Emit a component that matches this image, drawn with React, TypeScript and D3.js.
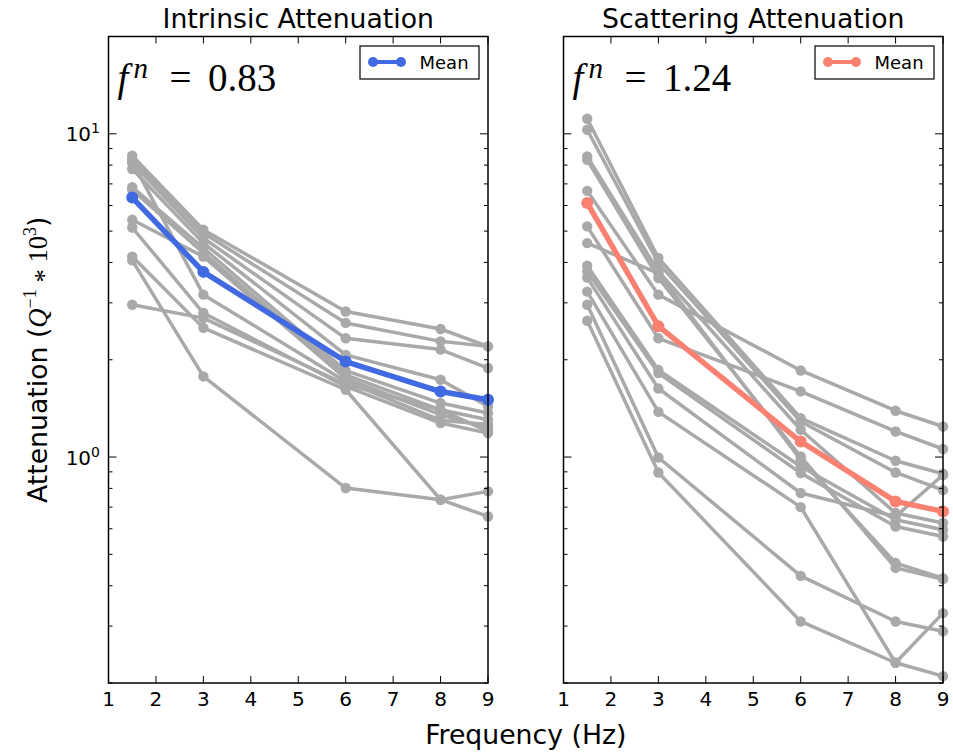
import React from "react";
import * as d3 from "d3";

const freqs = [1.5, 3, 6, 8, 9];
const xTickValues = [1, 2, 3, 4, 5, 6, 7, 8, 9];
const yMajorTicks = [1, 10];
const yMinorTicks = [0.2, 0.3, 0.4, 0.5, 0.6, 0.7, 0.8, 0.9, 2, 3, 4, 5, 6, 7, 8, 9];

const intrinsicLines: number[][] = [
  [8.55, 5.05, 2.82, 2.49, 2.2],
  [8.35, 4.93, 2.6, 2.28, 2.2],
  [8.12, 4.76, 2.33, 2.15, 1.885],
  [7.78, 4.59, 2.07, 1.734, 1.434],
  [6.84, 4.43, 1.85, 1.469, 1.368],
  [6.71, 4.28, 1.797, 1.4, 1.304],
  [5.42, 4.17, 1.75, 1.352, 1.229],
  [8.2, 3.18, 1.713, 1.3, 1.26],
  [5.13, 2.79, 1.654, 1.274, 1.186],
  [4.17, 2.51, 1.615, 0.738, 0.655],
  [4.06, 1.776, 0.802, 0.738, 0.783],
  [2.96, 2.69, 1.68, 1.4, 1.2],
];
const intrinsicMean = [6.35, 3.74, 1.975, 1.595, 1.504];

const scatteringLines: number[][] = [
  [6.66, 3.18, 1.853, 1.391, 1.243],
  [5.17, 2.33, 1.596, 1.2, 1.059],
  [11.13, 4.13, 1.319, 0.974, 0.888],
  [10.29, 3.98, 1.288, 0.896, 0.79],
  [8.51, 3.75, 1.215, 0.671, 0.625],
  [8.31, 3.58, 1.004, 0.454, 0.419],
  [4.59, 3.7, 0.981, 0.47, 0.422],
  [3.91, 1.86, 0.935, 0.64, 0.596],
  [3.75, 1.82, 0.892, 0.61, 0.568],
  [3.59, 1.63, 0.774, 0.655, 0.88],
  [3.25, 1.38, 0.7, 0.231, 0.329],
  [2.96, 0.997, 0.429, 0.31, 0.289],
  [2.64, 0.896, 0.31, 0.231, 0.21],
];
const scatteringMean = [6.11, 2.54, 1.117, 0.729, 0.679];

const W = 953;
const H = 752;
const top = 36.5;
const bottom = 683;
const panelW = 379.5;
const panels = [
  { left: 108.5, title: "Intrinsic Attenuation", lines: intrinsicLines, mean: intrinsicMean, color: "#4169e1", n: "0.83", yLabels: true },
  { left: 563.5, title: "Scattering Attenuation", lines: scatteringLines, mean: scatteringMean, color: "#fa8072", n: "1.24", yLabels: false },
];

const GREY = "#a9a9a9";
const SANS = "DejaVu Sans, sans-serif";
const SERIF = "Liberation Serif, Times New Roman, serif";

function Panel({ p }: { p: (typeof panels)[number] }) {
  const x = d3.scaleLinear().domain([1, 9]).range([0, panelW]);
  const y = d3.scaleLog().domain([0.2, 20]).range([bottom - top, 0]);
  const h = bottom - top;
  const line = d3
    .line<number>()
    .x((_, i) => x(freqs[i]))
    .y((d) => y(d));
  const legW = 119;
  const legX = panelW - 9 - legW;
  const annBase = 90.5 - top;
  return (
    <g transform={`translate(${p.left},${top})`}>
      <text x={panelW / 2} y={-9} textAnchor="middle" fontFamily={SANS} fontSize={26.7} fill="#000">
        {p.title}
      </text>
      {p.lines.map((vals, k) => (
        <g key={k}>
          <path d={line(vals) || ""} fill="none" stroke={GREY} strokeWidth={3.5} strokeLinejoin="round" />
          {vals.map((v, i) => (
            <circle key={i} cx={x(freqs[i])} cy={y(v)} r={5.2} fill={GREY} />
          ))}
        </g>
      ))}
      <path d={line(p.mean) || ""} fill="none" stroke={p.color} strokeWidth={5.5} strokeLinejoin="round" />
      {p.mean.map((v, i) => (
        <circle key={i} cx={x(freqs[i])} cy={y(v)} r={6} fill={p.color} />
      ))}
      {xTickValues.map((t) => (
        <g key={t}>
          <line x1={x(t)} x2={x(t)} y1={h} y2={h - 7} stroke="#000" strokeWidth={1} />
          <line x1={x(t)} x2={x(t)} y1={0} y2={7} stroke="#000" strokeWidth={1} />
          <text x={x(t)} y={h + 23} textAnchor="middle" fontFamily={SANS} fontSize={20} fill="#000">
            {t}
          </text>
        </g>
      ))}
      {yMajorTicks.map((t) => (
        <g key={t}>
          <line x1={0} x2={8} y1={y(t)} y2={y(t)} stroke="#000" strokeWidth={1} />
          <line x1={panelW} x2={panelW - 8} y1={y(t)} y2={y(t)} stroke="#000" strokeWidth={1} />
          {p.yLabels && (
            <text x={-8.5} y={y(t) + 7.5} textAnchor="end" fontFamily={SANS} fontSize={20} fill="#000">
              10
              <tspan fontSize={14} dy={-8}>
                {Math.round(Math.log10(t))}
              </tspan>
            </text>
          )}
        </g>
      ))}
      {yMinorTicks.map((t) => (
        <g key={t}>
          <line x1={0} x2={4} y1={y(t)} y2={y(t)} stroke="#000" strokeWidth={1} />
          <line x1={panelW} x2={panelW - 4} y1={y(t)} y2={y(t)} stroke="#000" strokeWidth={1} />
        </g>
      ))}
      <rect x={0} y={0} width={panelW} height={h} fill="none" stroke="#000" strokeWidth={1.5} />
      <g fontFamily={SERIF} fill="#000">
        <text x={9} y={annBase} fontSize={39} fontStyle="italic">f</text>
        <text x={25} y={annBase - 12.5} fontSize={29} fontStyle="italic">n</text>
        <text x={61} y={annBase} fontSize={39}>=</text>
        <text x={99.5} y={annBase} fontSize={39}>{p.n}</text>
      </g>
      <g transform={`translate(${legX},${46 - top})`}>
        <rect x={0} y={0} width={legW} height={33} fill="#fff" stroke="#000" strokeWidth={1.2} />
        <line x1={13} x2={41} y1={16} y2={16} stroke={p.color} strokeWidth={4} />
        <circle cx={13} cy={16} r={5} fill={p.color} />
        <circle cx={41} cy={16} r={5} fill={p.color} />
        <text x={59.5} y={22.5} fontFamily={SANS} fontSize={18} fill="#000">
          Mean
        </text>
      </g>
    </g>
  );
}

export default function App() {
  const midY = (top + bottom) / 2;
  return (
    <svg
      width={W}
      height={H}
      viewBox={`0 0 ${W} ${H}`}
      style={{ position: "absolute", left: 0, top: 0, background: "#fff" }}
    >
      <rect width={W} height={H} fill="#fff" />
      {panels.map((p, i) => (
        <Panel key={i} p={p} />
      ))}
      <text x={(108.5 + 943) / 2} y={744} textAnchor="middle" fontFamily={SANS} fontSize={26.7} fill="#000">
        Frequency (Hz)
      </text>
      <text
        transform={`translate(47,${midY}) rotate(-90)`}
        textAnchor="middle"
        fontFamily={SANS}
        fontSize={26.7}
        fill="#000"
      >
        Attenuation (
        <tspan fontFamily={SERIF} fontStyle="italic">Q</tspan>
        <tspan fontFamily={SERIF} fontSize={18} dy={-11}>−1</tspan>
        <tspan fontFamily={SERIF} dy={17}> *</tspan>
        <tspan fontFamily={SERIF} dy={-6}> 10</tspan>
        <tspan fontFamily={SERIF} fontSize={18} dy={-11}>3</tspan>
        <tspan dy={11}>)</tspan>
      </text>
    </svg>
  );
}
